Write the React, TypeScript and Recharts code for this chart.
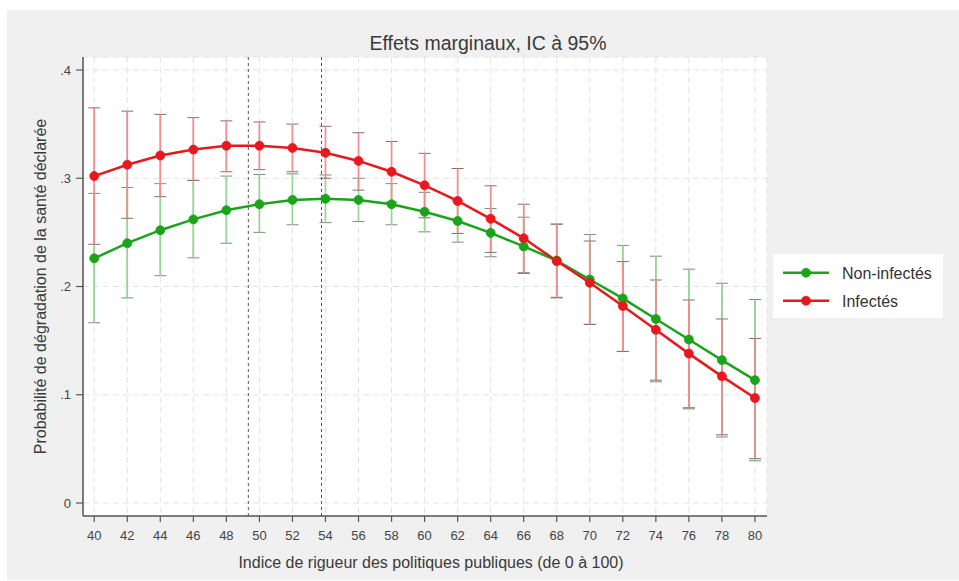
import React from 'react';
import {
  ComposedChart,
  Line,
  XAxis,
  YAxis,
  CartesianGrid,
  ErrorBar,
  ReferenceLine,
  Legend,
} from 'recharts';

const FONT = '"Liberation Sans", Arial, Helvetica, sans-serif';

// Indice de rigueur (x)
const stringency = [40, 42, 44, 46, 48, 50, 52, 54, 56, 58, 60, 62, 64, 66, 68, 70, 72, 74, 76, 78, 80];

// Non-infectés
const nonInfected = [0.226, 0.24, 0.252, 0.262, 0.2705, 0.276, 0.28, 0.281, 0.28, 0.276, 0.269, 0.2605, 0.2495, 0.237, 0.224, 0.2065, 0.189, 0.17, 0.151, 0.132, 0.1135];
const nonInfectedLow = [0.1665, 0.1895, 0.21, 0.2265, 0.24, 0.25, 0.257, 0.259, 0.26, 0.257, 0.2505, 0.241, 0.2275, 0.212, 0.19, 0.165, 0.14, 0.112, 0.087, 0.061, 0.039];
const nonInfectedHigh = [0.286, 0.2915, 0.295, 0.298, 0.302, 0.3035, 0.304, 0.303, 0.3, 0.295, 0.287, 0.279, 0.272, 0.264, 0.2576, 0.248, 0.238, 0.228, 0.216, 0.203, 0.188];

// Infectés
const infected = [0.302, 0.3125, 0.321, 0.3265, 0.33, 0.33, 0.328, 0.3235, 0.316, 0.306, 0.2935, 0.279, 0.2625, 0.2445, 0.2235, 0.2035, 0.182, 0.16, 0.138, 0.117, 0.097];
const infectedLow = [0.239, 0.263, 0.283, 0.298, 0.306, 0.308, 0.306, 0.3, 0.289, 0.278, 0.2635, 0.249, 0.2315, 0.2127, 0.1895, 0.165, 0.14, 0.1135, 0.088, 0.063, 0.041];
const infectedHigh = [0.365, 0.362, 0.359, 0.356, 0.353, 0.352, 0.35, 0.348, 0.342, 0.334, 0.323, 0.309, 0.293, 0.276, 0.2576, 0.242, 0.223, 0.206, 0.1875, 0.17, 0.152];

const xTicks = stringency;
const yTicks = [0, 0.1, 0.2, 0.3, 0.4];
const thresholds = [49.33, 53.76];

const GREEN = '#1ba41b';
const RED = '#e8191e';
const legendItems = [
  { name: 'Non-infectés', color: GREEN },
  { name: 'Infectés', color: RED },
];

const data = stringency.map((x, i) => ({
  x,
  nonInf: nonInfected[i],
  nonInfErr: [nonInfected[i] - nonInfectedLow[i], nonInfectedHigh[i] - nonInfected[i]],
  inf: infected[i],
  infErr: [infected[i] - infectedLow[i], infectedHigh[i] - infected[i]],
}));

const fmtY = (v: number) => (v === 0 ? '0' : String(v).replace(/^0/, ''));

const renderLegend = () => (
  <div style={{ width: 170, height: 64, background: '#ffffff' }}>
    <svg width={170} height={64} style={{ display: 'block' }}>
      {legendItems.map((it, i) => {
        const y = 18.7 + i * 28;
        return (
          <g key={it.name}>
            <line x1={10} x2={56} y1={y} y2={y} stroke={it.color} strokeWidth={2.5} />
            <circle cx={33} cy={y} r={4.5} fill={it.color} stroke={it.color} strokeWidth={0.8} />
            <text x={69} y={y + 6.6} fontSize={16} fill="#333" fontFamily={FONT}>
              {it.name}
            </text>
          </g>
        );
      })}
    </svg>
  </div>
);

export default function App() {
  return (
    <div
      style={{
        position: 'absolute',
        left: 7,
        top: 10,
        width: 952,
        height: 570,
        background: '#f0f0f0',
      }}
    >
      <ComposedChart
        width={952}
        height={570}
        data={data}
        margin={{ top: 47, right: 192, bottom: 34, left: 36 }}
      >
        <CartesianGrid stroke="#e3e3e3" strokeDasharray="6 4" fill="#ffffff" />
        <XAxis
          dataKey="x"
          type="number"
          domain={[39.32, 80.73]}
          ticks={xTicks}
          interval={0}
          height={30}
          tickSize={6}
          tickMargin={9}
          axisLine={{ stroke: '#555', strokeWidth: 1.5 }}
          tickLine={{ stroke: '#555', strokeWidth: 1.2 }}
          tick={{ fontSize: 13, fill: '#444', fontFamily: FONT }}
          label={{
            value: 'Indice de rigueur des politiques publiques (de 0 à 100)',
            position: 'bottom',
            offset: 11,
            dx: 6,
            fontSize: 16,
            fill: '#3a3a3a',
            fontFamily: FONT,
          }}
        />
        <YAxis
          type="number"
          domain={[-0.012, 0.412]}
          ticks={yTicks}
          width={40}
          tickSize={7}
          tickMargin={5}
          tickFormatter={fmtY}
          axisLine={{ stroke: '#555', strokeWidth: 1.5 }}
          tickLine={{ stroke: '#555', strokeWidth: 1.2 }}
          tick={{ fontSize: 13, fill: '#444', fontFamily: FONT }}
          label={{
            value: 'Probabilité de dégradation de la santé déclarée',
            angle: -90,
            position: 'center',
            dx: -23,
            fontSize: 16,
            fill: '#3a3a3a',
            fontFamily: FONT,
          }}
        />
        {thresholds.map((t) => (
          <ReferenceLine key={t} x={t} stroke="#555" strokeDasharray="3 3" strokeWidth={1} />
        ))}
        <Line dataKey="nonInf" stroke="none" dot={false} activeDot={false} legendType="none" isAnimationActive={false}>
          <ErrorBar dataKey="nonInfErr" direction="y" width={6} stroke="#7a8f7a" strokeWidth={1} isAnimationActive={false} />
          <ErrorBar dataKey="nonInfErr" direction="y" width={0} stroke="#97d597" strokeWidth={1.7} isAnimationActive={false} />
        </Line>
        <Line dataKey="inf" stroke="none" dot={false} activeDot={false} legendType="none" isAnimationActive={false}>
          <ErrorBar dataKey="infErr" direction="y" width={6} stroke="#8c6a6a" strokeWidth={1} isAnimationActive={false} />
          <ErrorBar dataKey="infErr" direction="y" width={0} stroke="#ef8f8f" strokeWidth={1.7} isAnimationActive={false} />
        </Line>
        <Line
          dataKey="nonInf"
          name={legendItems[0].name}
          stroke={GREEN}
          strokeWidth={2.5}
          dot={{ r: 4.5, fill: GREEN, stroke: GREEN, strokeWidth: 0.8 }}
          activeDot={false}
          isAnimationActive={false}
        />
        <Line
          dataKey="inf"
          name={legendItems[1].name}
          stroke={RED}
          strokeWidth={2.5}
          dot={{ r: 4.5, fill: RED, stroke: RED, strokeWidth: 0.8 }}
          activeDot={false}
          isAnimationActive={false}
        />
        <Legend
          layout="vertical"
          align="center"
          verticalAlign="middle"
          content={renderLegend}
          wrapperStyle={{ left: 766, top: 244, width: 170, height: 64 }}
        />
      </ComposedChart>
      <svg
        width={952}
        height={570}
        style={{ position: 'absolute', left: 0, top: 0, pointerEvents: 'none' }}
      >
        <text x={481} y={40} textAnchor="middle" fontSize={19.5} fill="#3a3a3a" fontFamily={FONT}>
          Effets marginaux, IC à 95%
        </text>
      </svg>
    </div>
  );
}
